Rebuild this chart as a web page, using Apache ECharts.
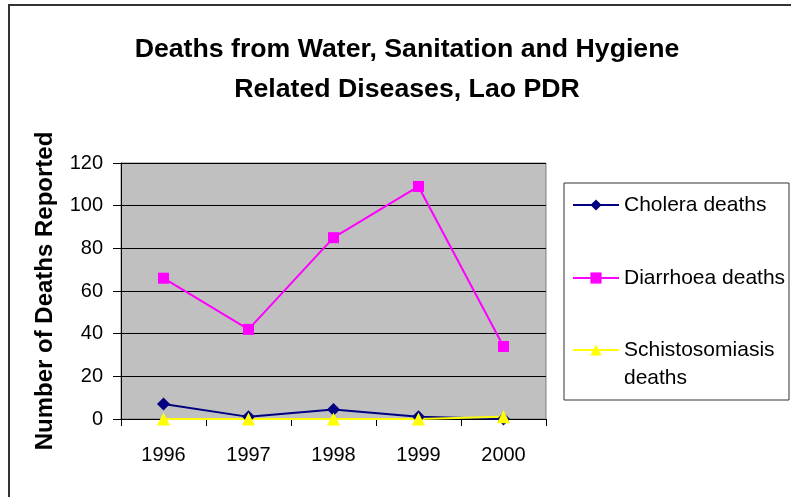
<!DOCTYPE html>
<html>
<head>
<meta charset="utf-8">
<script src="https://cdn.jsdelivr.net/npm/echarts@6/dist/echarts.min.js"></script>
<style>html,body{margin:0;padding:0;background:#fff;}#c{width:791px;height:497px;}</style>
</head>
<body>
<div id="c"></div>
<script>
const years = ['1996', '1997', '1998', '1999', '2000'];
const cholera = [7, 1, 4.5, 1, 0];
const diarrhoea = [66, 42, 85, 109, 34];
const schisto = [0, 0, 0, 0, 1];
const yTicks = [0, 20, 40, 60, 80, 100, 120];

const FONT = '"Liberation Sans", Arial, sans-serif';
const chart = echarts.init(document.getElementById('c'), null, {renderer: 'canvas'});

function legendFor(name, top, extra) {
  return Object.assign({
    data: [name],
    orient: 'vertical',
    left: 572,
    top: top,
    padding: 0,
    itemWidth: 46,
    itemHeight: 14,
    itemGap: 0,
    textStyle: {fontFamily: FONT, fontSize: 21, color: '#000', lineHeight: 28}
  }, extra || {});
}

chart.setOption({
  animation: false,
  backgroundColor: '#fff',
  title: {
    text: 'Deaths from Water, Sanitation and Hygiene\nRelated Diseases, Lao PDR',
    left: 402,
    top: 25,
    textAlign: 'center',
    textStyle: {fontFamily: FONT, fontSize: 26.7, fontWeight: 'bold', color: '#000', lineHeight: 40}
  },
  graphic: [
    {type: 'rect', shape: {x: 9, y: 5, width: 800, height: 500}, style: {fill: 'none', stroke: '#333', lineWidth: 2}, silent: true, z: -10},
    {type: 'rect', shape: {x: 564, y: 183, width: 225, height: 217}, style: {fill: '#fff', stroke: '#333', lineWidth: 1}, silent: true, z: -5}
  ],
  legend: [
    legendFor('Cholera deaths', 191),
    legendFor('Diarrhoea deaths', 264),
    legendFor('Schistosomiasis deaths', 308, {
      formatter: function () { return ' \nSchistosomiasis\ndeaths'; }
    })
  ],
  grid: {
    left: 121, right: 245, top: 163, bottom: 78,
    show: true, backgroundColor: '#c0c0c0', borderColor: '#808080', borderWidth: 1
  },
  xAxis: {
    type: 'category',
    data: years,
    boundaryGap: true,
    axisLine: {lineStyle: {color: '#000', width: 1}},
    axisTick: {show: true, length: 7, lineStyle: {color: '#000'}, alignWithLabel: false},
    axisLabel: {fontFamily: FONT, fontSize: 20, color: '#000', margin: 26}
  },
  yAxis: {
    type: 'value',
    min: 0, max: 120, interval: 20,
    name: 'Number of Deaths Reported',
    nameLocation: 'middle',
    nameGap: 64,
    nameTextStyle: {fontFamily: FONT, fontSize: 24, fontWeight: 'bold', color: '#000'},
    axisLine: {show: true, lineStyle: {color: '#000', width: 1}},
    axisTick: {show: true, length: 8, lineStyle: {color: '#000'}},
    axisLabel: {fontFamily: FONT, fontSize: 20, color: '#000', margin: 18,
      formatter: function (v) { return yTicks.indexOf(v) >= 0 ? String(v) : ''; }},
    splitLine: {show: true, lineStyle: {color: '#000', width: 1}}
  },
  series: [
    {name: 'Cholera deaths', type: 'line', data: cholera, symbol: 'diamond', symbolSize: 13,
      itemStyle: {color: '#000080'}, lineStyle: {color: '#000080', width: 2}},
    {name: 'Diarrhoea deaths', type: 'line', data: diarrhoea, symbol: 'rect', symbolSize: 11,
      itemStyle: {color: '#ff00ff'}, lineStyle: {color: '#ff00ff', width: 2}},
    {name: 'Schistosomiasis deaths', type: 'line', data: schisto, symbol: 'triangle', symbolSize: 13,
      itemStyle: {color: '#ffff00'}, lineStyle: {color: '#ffff00', width: 2}}
  ]
});
</script>
</body>
</html>
